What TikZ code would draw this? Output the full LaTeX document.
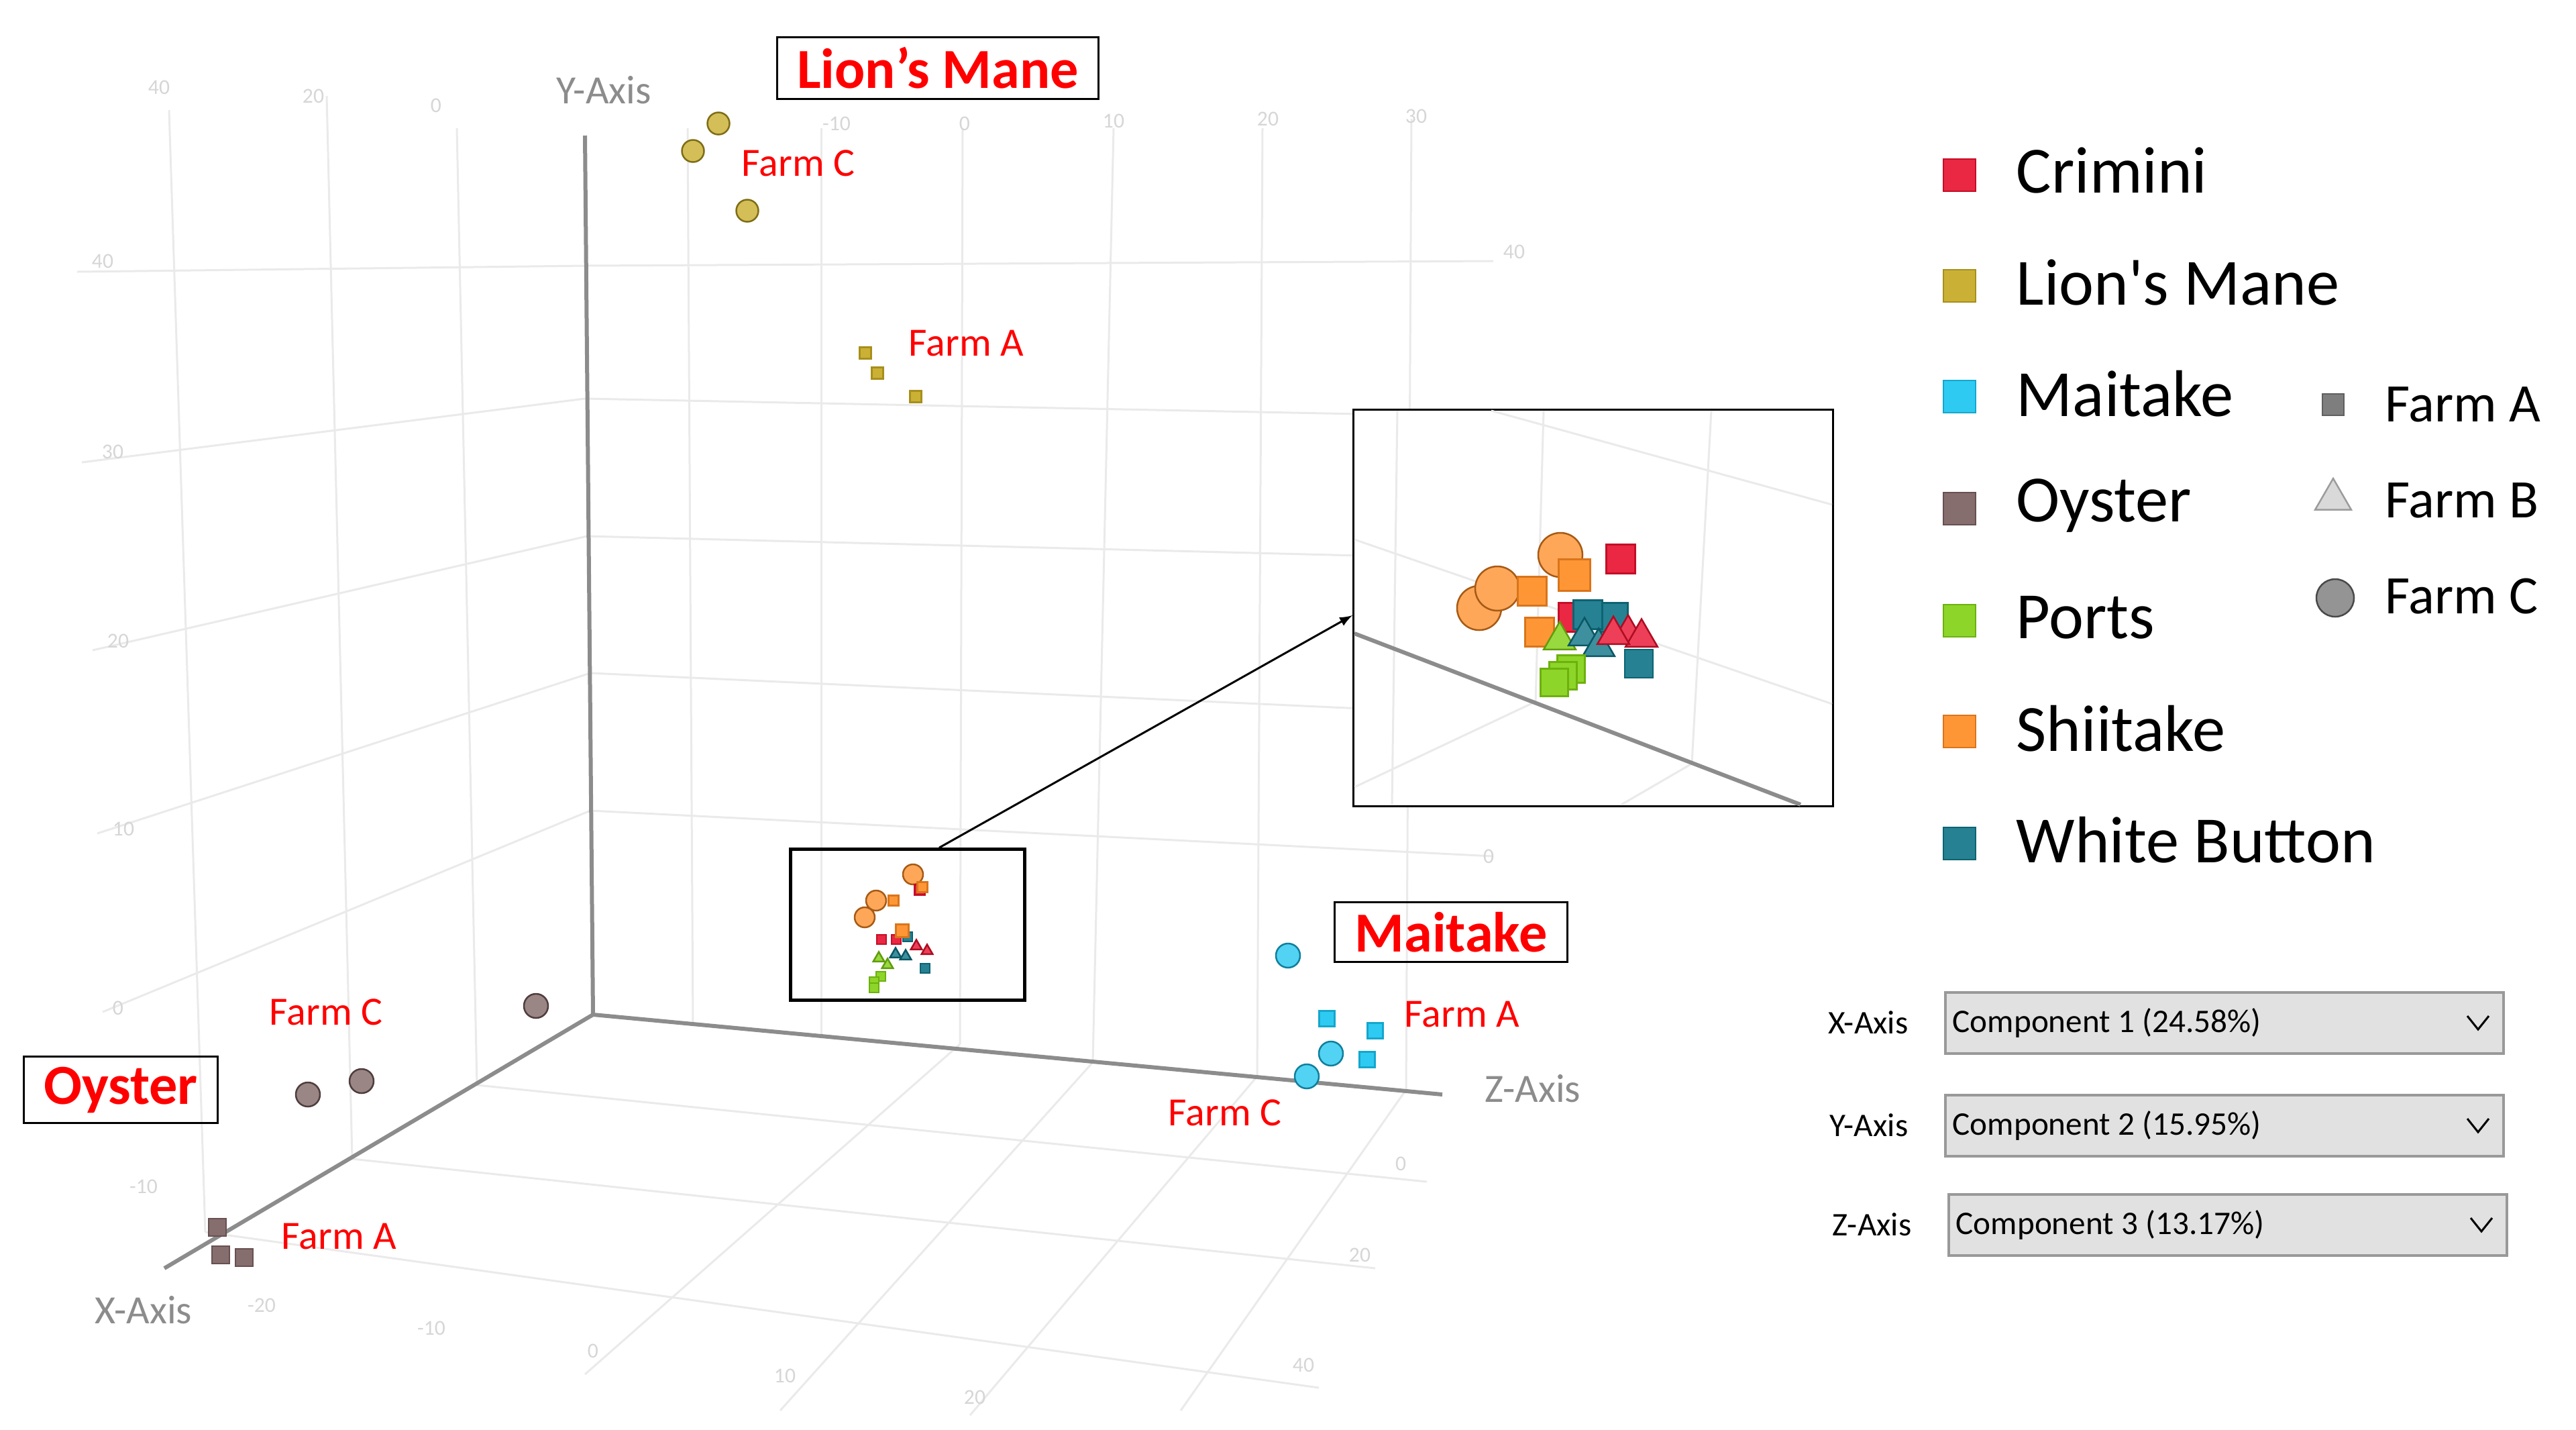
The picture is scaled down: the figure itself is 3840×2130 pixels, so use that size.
\documentclass[tikz,border=0pt]{standalone}
\usepackage{fontspec}
\setmainfont{Carlito}
\usetikzlibrary{shapes.geometric}

\definecolor{crimini}{HTML}{E8102E}
\definecolor{lion}{HTML}{C4A820}
\definecolor{maitake}{HTML}{18C4F0}
\definecolor{oyster}{HTML}{7A5E5E}
\definecolor{ports}{HTML}{80D010}
\definecolor{shiitake}{HTML}{FF8A20}
\definecolor{wbutton}{HTML}{0E7486}
\definecolor{farmgray}{HTML}{707070}
\definecolor{farmlight}{HTML}{D0D0D0}
\definecolor{gridgray}{HTML}{EAEAEA}
\definecolor{tickgray}{HTML}{D6D6D6}
\definecolor{axisgray}{HTML}{8C8C8C}
\definecolor{boxgray}{HTML}{E1E1E1}

\tikzset{
  grid line/.style={draw=gridgray, line width=0.3mm},
  axis line/.style={draw=axisgray, line width=0.6mm},
  tick/.style={text=tickgray, font=\fontsize{9}{9}\selectfont, inner sep=0},
  axis label/.style={text=axisgray, font=\fontsize{17}{17}\selectfont, inner sep=0},
  farm/.style={text=red, font=\fontsize{17}{17}\selectfont, anchor=west, inner sep=0},
  name box/.style={draw, line width=0.3mm, text=red, font=\bfseries\fontsize{24}{24}\selectfont, inner xsep=3mm, inner ysep=1.5mm},
  dot/.style={circle, draw=#1!65!black, fill=#1!75, line width=0.25mm, inner sep=0},
  sq/.style={rectangle, draw=#1!85!black, fill=#1!90, line width=0.25mm, inner sep=0},
  tri/.style={regular polygon, regular polygon sides=3, draw=#1!75!black, fill=#1!80, line width=0.25mm, inner sep=0},
  legend/.style={font=\fontsize{28}{28}\selectfont, anchor=west, inner sep=0},
  farm key/.style={font=\fontsize{23}{23}\selectfont, anchor=west, inner sep=0},
  combo/.style={draw=gray!80, fill=boxgray, line width=0.4mm, minimum width=83.2mm, minimum height=9.1mm, inner sep=0},
  combo text/.style={font=\fontsize{14}{14}\selectfont, anchor=west, inner sep=0},
}

\begin{document}
\begin{tikzpicture}[x=0.1mm, y=-0.1mm]
\useasboundingbox (0,0) rectangle (3840,2130);

% Grid of the plot
\draw[grid line] (115,405) -- (872,396) -- (2226,389);
\draw[grid line] (122,689) -- (872,594) -- (2226,621);
\draw[grid line] (138,969) -- (875,799) -- (2226,833);
\draw[grid line] (145,1242) -- (880,1003) -- (2226,1065);
\draw[grid line] (153,1508) -- (880,1208) -- (2226,1276);
\draw[grid line] (252,164) -- (306,1836);
\draw[grid line] (487,143) -- (525,1727);
\draw[grid line] (681,191) -- (711,1617);
\draw[grid line] (1025,191) -- (1033,1529);
\draw[grid line] (1224,191) -- (1224,1542);
\draw[grid line] (1435,191) -- (1431,1556);
\draw[grid line] (1660,191) -- (1629,1583);
\draw[grid line] (1882,191) -- (1874,1604);
\draw[grid line] (2104,177) -- (2096,1624);
\draw[grid line] (711,1617) -- (2127,1761);
\draw[grid line] (525,1727) -- (2050,1890);
\draw[grid line] (306,1836) -- (1966,2068);
\draw[grid line] (1431,1556) -- (872,2048);
\draw[grid line] (1629,1583) -- (1163,2102);
\draw[grid line] (1874,1604) -- (1446,2109);
\draw[grid line] (2096,1624) -- (1760,2102);

% Tick labels
\node[tick] (t1) at (237,130) {40};
\node[tick] (t2) at (467,143) {20};
\node[tick] (t3) at (650,157) {0};
\node[tick] (t4) at (1247,184) {-10};
\node[tick] (t5) at (1438,184) {0};
\node[tick] (t6) at (1660,180) {10};
\node[tick] (t7) at (1890,177) {20};
\node[tick] (t8) at (2111,173) {30};
\node[tick] (t9) at (153,389) {40};
\node[tick] (t10) at (168,673) {30};
\node[tick] (t11) at (176,955) {20};
\node[tick] (t12) at (184,1235) {10};
\node[tick] (t13) at (176,1502) {0};
\node[tick] (t14) at (214,1768) {-10};
\node[tick] (t15) at (390,1945) {-20};
\node[tick] (t16) at (643,1979) {-10};
\node[tick] (t17) at (884,2013) {0};
\node[tick] (t18) at (1170,2050) {10};
\node[tick] (t19) at (1453,2082) {20};
\node[tick] (t20) at (2257,375) {40};
\node[tick] (t21) at (2219,1276) {0};
\node[tick] (t22) at (2088,1734) {0};
\node[tick] (t23) at (2027,1870) {20};
\node[tick] (t24) at (1943,2034) {40};

% Axes
\coordinate (origin) at (884,1512);
\coordinate (yend) at (872,202);
\coordinate (zend) at (2150,1631);
\coordinate (xend) at (245,1890);
\draw[axis line] (origin) -- (yend);
\draw[axis line] (origin) -- (zend);
\draw[axis line] (origin) -- (xend);
\node[axis label] (ylab) at (900,134) {Y-Axis};
\node[axis label] (zlab) at (2285,1622) {Z-Axis};
\node[axis label] (xlab) at (214,1952) {X-Axis};

% Lion's Mane
\node[dot=lion, minimum size=3.3mm] (lmc1) at (1071,184) {};
\node[dot=lion, minimum size=3.3mm] (lmc2) at (1033,225) {};
\node[dot=lion, minimum size=3.3mm] (lmc3) at (1114,314) {};
\node[sq=lion, minimum size=1.7mm] (lma1) at (1290,526) {};
\node[sq=lion, minimum size=1.7mm] (lma2) at (1308,556) {};
\node[sq=lion, minimum size=1.7mm] (lma3) at (1365,591) {};
\node[farm] (lmcl) at (1105,243) {Farm C};
\node[farm] (lmal) at (1354,512) {Farm A};
\node[name box] (lmbox) at (1398,101) {Lion’s Mane};

% Oyster
\node[dot=oyster, minimum size=3.6mm] (oyc1) at (799,1499) {};
\node[dot=oyster, minimum size=3.6mm] (oyc2) at (459,1631) {};
\node[dot=oyster, minimum size=3.6mm] (oyc3) at (539,1611) {};
\node[sq=oyster, minimum size=2.6mm] (oya1) at (324,1829) {};
\node[sq=oyster, minimum size=2.6mm] (oya2) at (329,1870) {};
\node[sq=oyster, minimum size=2.6mm] (oya3) at (364,1874) {};
\node[farm] (oycl) at (401,1508) {Farm C};
\node[farm] (oyal) at (419,1843) {Farm A};
\node[name box] (oybox) at (180,1624) {Oyster};

% Maitake
\node[dot=maitake, minimum size=3.6mm] (mtc1) at (1920,1424) {};
\node[dot=maitake, minimum size=3.6mm] (mtc2) at (1984,1570) {};
\node[dot=maitake, minimum size=3.6mm] (mtc3) at (1948,1604) {};
\node[sq=maitake, minimum size=2.3mm] (mta1) at (1978,1518) {};
\node[sq=maitake, minimum size=2.3mm] (mta2) at (2050,1536) {};
\node[sq=maitake, minimum size=2.3mm] (mta3) at (2038,1579) {};
\node[farm] (mtal) at (2093,1512) {Farm A};
\node[farm] (mtcl) at (1741,1658) {Farm C};
\node[name box] (mtbox) at (2163,1389) {Maitake};

% Cluster and its box
\node[dot=shiitake, minimum size=3mm] (c1) at (1361,1303) {};
\node[sq=crimini, minimum size=1.5mm] (c2) at (1371,1326) {};
\node[sq=shiitake, minimum size=1.5mm] (c3) at (1375,1322) {};
\node[dot=shiitake, minimum size=3mm] (c4) at (1306,1342) {};
\node[dot=shiitake, minimum size=3mm] (c5) at (1289,1367) {};
\node[sq=shiitake, minimum size=1.5mm] (c6) at (1332,1342) {};
\node[sq=crimini, minimum size=1.4mm] (c7) at (1314,1400) {};
\node[sq=wbutton, minimum size=1.4mm] (c8) at (1353,1396) {};
\node[sq=crimini, minimum size=1.4mm] (c9) at (1336,1400) {};
\node[sq=shiitake, minimum size=1.9mm] (c10) at (1345,1387) {};
\node[tri=crimini, minimum size=1.9mm] (c11) at (1366,1410) {};
\node[tri=crimini, minimum size=1.9mm] (c12) at (1382,1417) {};
\node[tri=wbutton, minimum size=1.9mm] (c13) at (1335,1422) {};
\node[tri=wbutton, minimum size=1.9mm] (c14) at (1350,1425) {};
\node[tri=ports, minimum size=1.9mm] (c15) at (1310,1428) {};
\node[tri=ports, minimum size=1.9mm] (c16) at (1323,1438) {};
\node[sq=wbutton, minimum size=1.4mm] (c17) at (1379,1443) {};
\node[sq=ports, minimum size=1.4mm] (c18) at (1313,1455) {};
\node[sq=ports, minimum size=1.4mm] (c19) at (1303,1463) {};
\node[sq=ports, minimum size=1.4mm] (c20) at (1303,1472) {};
\node[draw, line width=0.45mm, minimum width=34.9mm, minimum height=22.5mm] (zbox) at (1353,1378) {};

% Inset
\node[draw, fill=white, line width=0.3mm, minimum width=71.5mm, minimum height=59.1mm] (inset) at (2375,906) {};
\draw[grid line] (2019,804) -- (2731,1049);
\draw[grid line] (2223,612) -- (2731,752);
\draw[grid line] (2083,612) -- (2075,1199);
\draw[grid line] (2301,612) -- (2289,1049);
\draw[grid line] (2551,612) -- (2522,1138);
\draw[grid line] (2019,1173) -- (2286,1047);
\draw[grid line] (2417,1199) -- (2522,1138);
\draw[axis line] (2019,944) -- (2684,1199);
\node[dot=shiitake, minimum size=6.6mm] (i1) at (2326,827) {};
\node[dot=shiitake, minimum size=6.6mm] (i2) at (2205,906) {};
\node[dot=shiitake, minimum size=6.6mm] (i3) at (2232,877) {};
\node[sq=shiitake, minimum size=4.3mm] (i4) at (2284,881) {};
\node[sq=shiitake, minimum width=4.7mm, minimum height=4.7mm] (i5) at (2347,857) {};
\node[sq=crimini, minimum size=4.3mm] (i6) at (2416,833) {};
\node[sq=crimini, minimum size=4.3mm] (i7) at (2345,920) {};
\node[sq=wbutton, minimum size=4.3mm] (i8) at (2405,920) {};
\node[sq=wbutton, minimum size=4.3mm] (i9) at (2367,916) {};
\node[sq=shiitake, minimum size=4.3mm] (i10) at (2295,942) {};
\node[tri=ports, minimum size=5.5mm] (i11) at (2325,954) {};
\node[tri=crimini, minimum size=5.5mm] (i12) at (2427,944) {};
\node[tri=crimini, minimum size=5.5mm] (i13) at (2447,950) {};
\node[tri=wbutton, minimum size=5.5mm] (i14) at (2362,948) {};
\node[tri=wbutton, minimum size=5.5mm] (i15) at (2383,964) {};
\node[tri=crimini, minimum size=5.5mm] (i16) at (2405,946) {};
\node[sq=wbutton, minimum size=4.2mm] (i17) at (2443,989) {};
\node[sq=ports, minimum size=4.1mm] (i18) at (2342,997) {};
\node[sq=ports, minimum size=4.1mm] (i19) at (2330,1007) {};
\node[sq=ports, minimum size=4.1mm] (i20) at (2317,1017) {};
\draw[->, >=latex, line width=0.3mm] ([xshift=4.7mm]zbox.north) -- ([yshift=-1.1mm]inset.west);

% Species legend
\node[sq=crimini, minimum size=4.8mm] (k1) at (2921,261) {};
\node[sq=lion, minimum size=4.8mm] (k2) at (2921,426) {};
\node[sq=maitake, minimum size=4.8mm] (k3) at (2921,591) {};
\node[sq=oyster, minimum size=4.8mm] (k4) at (2921,758) {};
\node[sq=ports, minimum size=4.8mm] (k5) at (2921,925) {};
\node[sq=shiitake, minimum size=4.8mm] (k6) at (2921,1090) {};
\node[sq=wbutton, minimum size=4.8mm] (k7) at (2921,1257) {};
\node[legend] (l1) at (3005,254) {Crimini};
\node[legend] (l2) at (3005,421) {Lion\textquotesingle s Mane};
\node[legend] (l3) at (3005,587) {Maitake};
\node[legend] (l4) at (3005,753) {Oyster};
\node[legend] (l5) at (3005,920) {Ports};
\node[legend] (l6) at (3005,1086) {Shiitake};
\node[legend] (l7) at (3005,1252) {White Button};

% Farm legend
\node[sq=farmgray, minimum size=3.2mm] (fa) at (3478,603) {};
\node[tri=farmlight, minimum size=6.2mm] (fb) at (3478,744) {};
\node[dot=farmgray, minimum size=5.6mm] (fc) at (3481,891) {};
\node[farm key] (fal) at (3555,603) {Farm A};
\node[farm key] (fbl) at (3555,746) {Farm B};
\node[farm key] (fcl) at (3555,889) {Farm C};

% Axis selectors
\node[combo] (cx) at (3316,1524) {};
\node[combo] (cy) at (3316,1677) {};
\node[combo] (cz) at (3321,1825) {};
\node[combo text, anchor=east] (cxl) at (2845,1524) {X-Axis};
\node[combo text, anchor=east] (cyl) at (2845,1677) {Y-Axis};
\node[combo text, anchor=east] (czl) at (2850,1825) {Z-Axis};
\node[combo text] (cxt) at ([xshift=1.2mm]cx.west) {Component 1 (24.58\%)};
\node[combo text] (cyt) at ([xshift=1.2mm]cy.west) {Component 2 (15.95\%)};
\node[combo text] (czt) at ([xshift=1.2mm]cz.west) {Component 3 (13.17\%)};
\draw[line width=0.3mm] ([xshift=-5.6mm, yshift=1mm]cx.east) -- ([xshift=-4mm, yshift=-1mm]cx.east) -- ([xshift=-2.4mm, yshift=1mm]cx.east);
\draw[line width=0.3mm] ([xshift=-5.6mm, yshift=1mm]cy.east) -- ([xshift=-4mm, yshift=-1mm]cy.east) -- ([xshift=-2.4mm, yshift=1mm]cy.east);
\draw[line width=0.3mm] ([xshift=-5.6mm, yshift=1mm]cz.east) -- ([xshift=-4mm, yshift=-1mm]cz.east) -- ([xshift=-2.4mm, yshift=1mm]cz.east);

\end{tikzpicture}
\end{document}
